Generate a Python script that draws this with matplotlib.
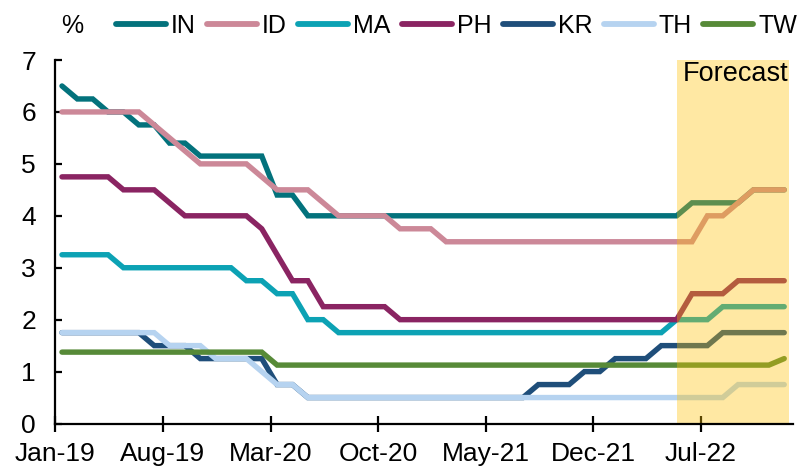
import numpy as np
import matplotlib
matplotlib.use("Agg")
import matplotlib.pyplot as plt
from matplotlib.lines import Line2D

plt.rcParams['font.family'] = ['Liberation Sans', 'DejaVu Sans']

# ---- data (monthly, Jan-19 .. Dec-22; forecast from May-22) ----
months = ["Jan-19", "Feb-19", "Mar-19", "Apr-19", "May-19", "Jun-19", "Jul-19", "Aug-19",
          "Sep-19", "Oct-19", "Nov-19", "Dec-19", "Jan-20", "Feb-20", "Mar-20", "Apr-20",
          "May-20", "Jun-20", "Jul-20", "Aug-20", "Sep-20", "Oct-20", "Nov-20", "Dec-20",
          "Jan-21", "Feb-21", "Mar-21", "Apr-21", "May-21", "Jun-21", "Jul-21", "Aug-21",
          "Sep-21", "Oct-21", "Nov-21", "Dec-21", "Jan-22", "Feb-22", "Mar-22", "Apr-22",
          "May-22", "Jun-22", "Jul-22", "Aug-22", "Sep-22", "Oct-22", "Nov-22", "Dec-22"]

IN = [6.5, 6.25, 6.25, 6.0, 6.0, 5.75, 5.75, 5.4, 5.4, 5.15, 5.15, 5.15, 5.15, 5.15, 4.4, 4.4,
      4.0, 4.0, 4.0, 4.0, 4.0, 4.0, 4.0, 4.0, 4.0, 4.0, 4.0, 4.0, 4.0, 4.0, 4.0, 4.0,
      4.0, 4.0, 4.0, 4.0, 4.0, 4.0, 4.0, 4.0, 4.0, 4.25, 4.25, 4.25, 4.25, 4.5, 4.5, 4.5]
ID = [6.0, 6.0, 6.0, 6.0, 6.0, 6.0, 5.75, 5.5, 5.25, 5.0, 5.0, 5.0, 5.0, 4.75, 4.5, 4.5,
      4.5, 4.25, 4.0, 4.0, 4.0, 4.0, 3.75, 3.75, 3.75, 3.5, 3.5, 3.5, 3.5, 3.5, 3.5, 3.5,
      3.5, 3.5, 3.5, 3.5, 3.5, 3.5, 3.5, 3.5, 3.5, 3.5, 4.0, 4.0, 4.25, 4.5, 4.5, 4.5]
MA = [3.25, 3.25, 3.25, 3.25, 3.0, 3.0, 3.0, 3.0, 3.0, 3.0, 3.0, 3.0, 2.75, 2.75, 2.5, 2.5,
      2.0, 2.0, 1.75, 1.75, 1.75, 1.75, 1.75, 1.75, 1.75, 1.75, 1.75, 1.75, 1.75, 1.75, 1.75, 1.75,
      1.75, 1.75, 1.75, 1.75, 1.75, 1.75, 1.75, 1.75, 2.0, 2.0, 2.0, 2.25, 2.25, 2.25, 2.25, 2.25]
PH = [4.75, 4.75, 4.75, 4.75, 4.5, 4.5, 4.5, 4.25, 4.0, 4.0, 4.0, 4.0, 4.0, 3.75, 3.25, 2.75,
      2.75, 2.25, 2.25, 2.25, 2.25, 2.25, 2.0, 2.0, 2.0, 2.0, 2.0, 2.0, 2.0, 2.0, 2.0, 2.0,
      2.0, 2.0, 2.0, 2.0, 2.0, 2.0, 2.0, 2.0, 2.0, 2.5, 2.5, 2.5, 2.75, 2.75, 2.75, 2.75]
KR = [1.75, 1.75, 1.75, 1.75, 1.75, 1.75, 1.5, 1.5, 1.5, 1.25, 1.25, 1.25, 1.25, 1.25, 0.75, 0.75,
      0.5, 0.5, 0.5, 0.5, 0.5, 0.5, 0.5, 0.5, 0.5, 0.5, 0.5, 0.5, 0.5, 0.5, 0.5, 0.75,
      0.75, 0.75, 1.0, 1.0, 1.25, 1.25, 1.25, 1.5, 1.5, 1.5, 1.5, 1.75, 1.75, 1.75, 1.75, 1.75]
TH = [1.75, 1.75, 1.75, 1.75, 1.75, 1.75, 1.75, 1.5, 1.5, 1.5, 1.25, 1.25, 1.25, 1.0, 0.75, 0.75,
      0.5, 0.5, 0.5, 0.5, 0.5, 0.5, 0.5, 0.5, 0.5, 0.5, 0.5, 0.5, 0.5, 0.5, 0.5, 0.5,
      0.5, 0.5, 0.5, 0.5, 0.5, 0.5, 0.5, 0.5, 0.5, 0.5, 0.5, 0.5, 0.75, 0.75, 0.75, 0.75]
TW = [1.375, 1.375, 1.375, 1.375, 1.375, 1.375, 1.375, 1.375, 1.375, 1.375, 1.375, 1.375, 1.375, 1.375, 1.125, 1.125,
      1.125, 1.125, 1.125, 1.125, 1.125, 1.125, 1.125, 1.125, 1.125, 1.125, 1.125, 1.125, 1.125, 1.125, 1.125, 1.125,
      1.125, 1.125, 1.125, 1.125, 1.125, 1.125, 1.125, 1.125, 1.125, 1.125, 1.125, 1.125, 1.125, 1.125, 1.125, 1.25]

series_names = ["IN", "ID", "MA", "PH", "KR", "TH", "TW"]
series_values = [IN, ID, MA, PH, KR, TH, TW]
colors = ["#03727C", "#CC8898", "#0CA2B4", "#8A2462", "#1F4E7A", "#B6D3F0", "#578A38"]

tick_labels = ["Jan-19", "Aug-19", "Mar-20", "Oct-20", "May-21", "Dec-21", "Jul-22"]
forecast_start = "May-22"

# ---- figure ----
fig = plt.figure(figsize=(7.98, 4.67), dpi=100)
ax = fig.add_axes([0.0694, 0.0931, 0.9243, 0.7784])

x = np.arange(len(months)) + 0.43
for name, vals, c in zip(series_names, series_values, colors):
    ax.plot(x, vals, color=c, lw=3.9, label=name, solid_capstyle='round',
            solid_joinstyle='miter', zorder=3)

fs_idx = months.index(forecast_start) + 0.43
ax.axvspan(fs_idx, 47.73, color="#FFC000", alpha=0.36, lw=0, zorder=5)
ax.text(fs_idx + 0.4, 6.6, "Forecast", fontsize=19.5, ha='left', va='baseline', zorder=6)

ax.set_xlim(0, 48.0)
ax.set_ylim(0, 7)
ax.set_xticks([months.index(t) for t in tick_labels])
ax.set_xticklabels(tick_labels)
ax.set_yticks(range(0, 8))

for s in ["top", "right"]:
    ax.spines[s].set_visible(False)
for s in ["left", "bottom"]:
    ax.spines[s].set_linewidth(1.6)
    ax.spines[s].set_color("black")
    ax.spines[s].set_zorder(7)

ax.tick_params(axis='x', direction='inout', length=12, width=1.6, labelsize=19, pad=7)
ax.tick_params(axis='y', direction='in', length=5, width=1.6, labelsize=19, pad=14)

fig.text(0.09, 0.945, "%", fontsize=18, ha='center', va='center')

handles = [Line2D([0], [0], color=c, lw=4.2, solid_capstyle='round') for c in colors]
fig.legend(handles, series_names, loc='center', bbox_to_anchor=(0.572, 0.945), ncol=7,
           frameon=False, fontsize=18, handlelength=2.0, handletextpad=0.2,
           columnspacing=0.45, borderaxespad=0, borderpad=0)

fig.savefig("out.png", dpi=100)
